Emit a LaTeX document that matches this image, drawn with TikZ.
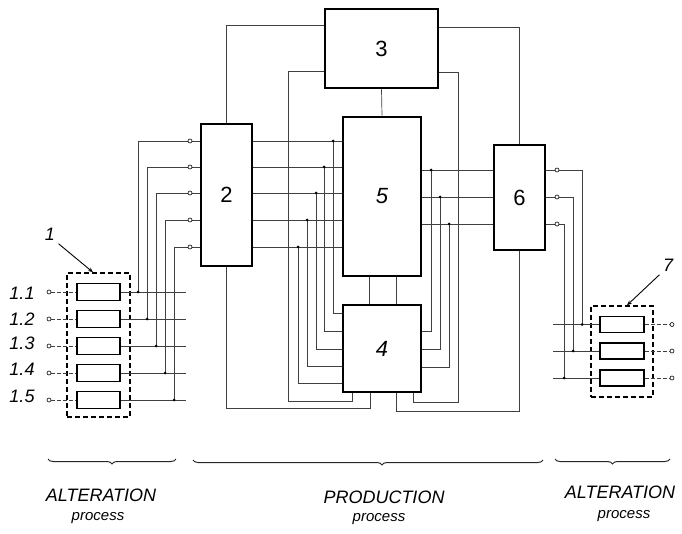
\documentclass[tikz,border=0pt]{standalone}
\usepackage{fontspec}
\setmainfont{Liberation Sans}
\usetikzlibrary{decorations.pathreplacing,arrows.meta}
\begin{document}
\begin{tikzpicture}[x=1pt,y=-1pt,
  blk/.style={draw,line width=2.8pt,inner sep=0pt,font=\fontsize{22}{22}\selectfont},
  wire/.style={line width=0.7pt,black!75},
  tick/.style={line width=0.7pt,black!75,dash pattern=on 4pt off 2pt},
  cell/.style={draw,line width=1.8pt,inner sep=0pt},
  grp/.style={draw,line width=1.4pt,dash pattern=on 5pt off 3pt},
  jd/.style={circle,fill=black,inner sep=0pt,minimum size=3pt},
  term/.style={circle,draw,line width=0.6pt,fill=white,inner sep=0pt,minimum size=4pt},
  lab/.style={font=\fontsize{18}{18}\selectfont\itshape},
  captxt/.style={font=\fontsize{18}{18}\selectfont\itshape},
  subtxt/.style={font=\fontsize{15}{15}\selectfont\itshape},
  brc/.style={decorate,decoration={brace,amplitude=5pt,mirror},line width=1pt,black!85},
]
\useasboundingbox (0,0) rectangle (682,534);

% main blocks
\node[blk,minimum width=113pt,minimum height=79pt] (b3) at (381.5,48.5) {3};
\node[blk,minimum width=78pt,minimum height=159pt] (b5) at (382,196.5) {\itshape 5};
\node[blk,minimum width=51pt,minimum height=142pt] (b2) at (226.5,195) {2};
\node[blk,minimum width=51pt,minimum height=105pt] (b6) at (519.5,197.5) {6};
\node[blk,minimum width=78pt,minimum height=87pt] (b4) at (382,348.5) {\itshape 4};

% group 1
\node[grp,minimum width=63pt,minimum height=144pt] (g1) at (98.5,345) {};
\foreach \k/\cy in {1/292,2/319,3/346,4/373,5/400} {
  \node[cell,minimum width=43pt,minimum height=17pt] (c1\k) at (98.5,\cy) {};
  \node[term] (t1\k) at (49,\cy) {};
  \draw[tick] (t1\k) -- (c1\k.west);
  \coordinate (e1\k) at (186,\cy);
  \draw[wire] (c1\k.east) -- (e1\k);
}
\foreach \k/\lx/\ly in {1/22/293,2/22/319,3/22/343,4/22/369,5/22/396} {
  \node[lab] (n1\k) at (\lx,\ly) {1.\k};
}

% group 7
\node[grp,minimum width=62pt,minimum height=91pt] (g7) at (622,351.5) {};
\foreach \k/\cy in {1/324.5,2/351,3/378} {
  \node[cell,minimum width=44pt,minimum height=16pt] (c7\k) at (622,\cy) {};
  \node[term] (t7\k) at (672,\cy) {};
  \draw[tick] (c7\k.east) -- (t7\k);
  \coordinate (s7\k) at (553,\cy);
  \draw[wire] (s7\k) -- (c7\k.west);
}

% inputs of block 2
\foreach \k/\y/\vx in {1/141/138,2/167/147,3/193/156,4/220/165,5/247/174} {
  \draw[wire] (c1\k.east -| \vx,0) |- (b2.west |- 0,\y);
  \node[jd] (j1\k) at (c1\k.east -| \vx,0) {};
  \node[term] (i2\k) at (190,\y) {};
}

% block 2 -> block 5, branches to block 4
\foreach \k/\y/\vx/\ty in {1/141/333/313,2/167/324/331,3/193/316/349,4/220/307/366,5/247/298/383} {
  \draw[wire] (b2.east |- 0,\y) -- (b5.west |- 0,\y);
  \draw[wire] (\vx,\y) |- (b4.west |- 0,\ty);
  \node[jd] (j2\k) at (\vx,\y) {};
}

% block 5 -> block 6, branches to block 4
\foreach \k/\y/\vx/\ty in {1/170/431/331,2/197/440/349,3/224/449/367} {
  \draw[wire] (b5.east |- 0,\y) -- (b6.west |- 0,\y);
  \draw[wire] (\vx,\y) |- (b4.east |- 0,\ty);
  \node[jd] (j5\k) at (\vx,\y) {};
}

% block 6 outputs -> group 7
\foreach \k/\y/\vx in {1/170/582,2/197/573,3/224/564} {
  \draw[wire] (b6.east |- 0,\y) -| (s7\k -| \vx,0);
  \node[term] (o6\k) at (557,\y) {};
  \node[jd] (j7\k) at (s7\k -| \vx,0) {};
}

% block 3 links
\draw[wire] (b3.south) -- (b5.north);
\draw[wire] (b3.west |- 0,25) -| (b2.north);
\draw[wire] (b3.east |- 0,27) -| (b6.north);
\draw[wire] (b3.west |- 0,71) -| (288,401) -| (b4.south -| 352,0);
\draw[wire] (b3.east |- 0,72) -| (458,402) -| (b4.south -| 413,0);
\draw[wire] (b2.south) |- (370,408) -- (b4.south -| 370,0);
\draw[wire] (b6.south) |- (396,411) -- (b4.south -| 396,0);
\draw[wire] (b5.south -| 369,0) -- (b4.north -| 369,0);
\draw[wire] (b5.south -| 396,0) -- (b4.north -| 396,0);

% reference labels
\node[lab] (l1) at (50,234) {1};
\node[lab] (l7) at (668,265) {7};
\draw[line width=0.9pt,-{Stealth[length=5pt,width=4pt]}] (l1.south east) -- (g1.north -| 93,0);
\draw[line width=0.9pt,-{Stealth[length=5pt,width=4pt]}] (l7.south west) -- (g7.north -| 627,0);

% braces and captions
\draw[brc] (48,459) -- (176,459);
\draw[brc,decoration={aspect=0.54}] (193,460) -- (543,460);
\draw[brc] (555,459) -- (670,459);
\node[captxt] (a1) at (101,495) {ALTERATION};
\node[subtxt] (p1) at (98,518) {process};
\node[captxt] (pr) at (384,497) {PRODUCTION};
\node[subtxt] (p2) at (379,519) {process};
\node[captxt] (a2) at (620,492) {ALTERATION};
\node[subtxt] (p3) at (624,516) {process};
\end{tikzpicture}
\end{document}
